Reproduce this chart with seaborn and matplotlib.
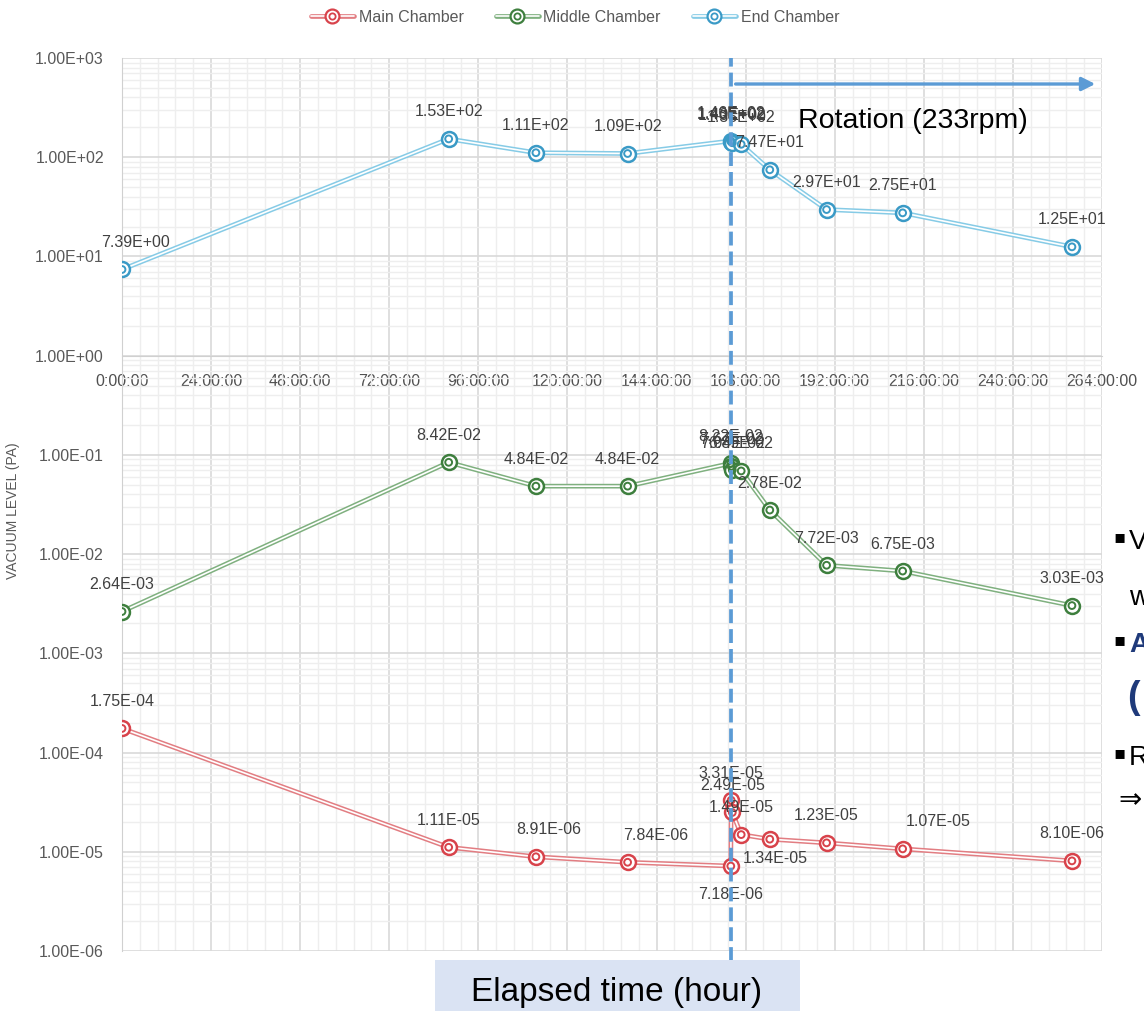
import numpy as np
import pandas as pd
import matplotlib
matplotlib.use("Agg")
import matplotlib.pyplot as plt
from matplotlib.ticker import MultipleLocator, LogLocator, FixedLocator, FuncFormatter, NullFormatter
from matplotlib.lines import Line2D
from matplotlib.patches import Rectangle
import seaborn as sns

# ---- data -------------------------------------------------------------
elapsed_h = [0.0, 88.0, 111.5, 136.2, 164.0, 164.1, 164.4, 166.8, 174.5, 189.8, 210.3, 255.9]
main_pa = [1.75e-4, 1.11e-5, 8.91e-6, 7.84e-6, 7.18e-6, 3.31e-5, 2.49e-5, 1.49e-5,
           1.34e-5, 1.23e-5, 1.07e-5, 8.10e-6]
middle_pa = [2.64e-3, 8.42e-2, 4.84e-2, 4.84e-2, 8.22e-2, 7.67e-2, 7.04e-2, 6.89e-2,
             2.78e-2, 7.72e-3, 6.75e-3, 3.03e-3]
end_pa = [7.39e0, 1.53e2, 1.11e2, 1.09e2, 1.46e2, 1.43e2, 1.40e2, 1.35e2,
          7.47e1, 2.97e1, 2.75e1, 1.25e1]
chambers = ["Main Chamber", "Middle Chamber", "End Chamber"]
rotation_start_h = 164.0
rotation_label = "Rotation (233rpm)"
x_ticks_h = list(range(0, 265, 24))
y_ticks = [1e-6, 1e-5, 1e-4, 1e-3, 1e-2, 1e-1, 1e0, 1e1, 1e2, 1e3]

df = pd.DataFrame({
    "hours": elapsed_h * 3,
    "pa": main_pa + middle_pa + end_pa,
    "chamber": np.repeat(chambers, len(elapsed_h)),
})

# ---- styling ----------------------------------------------------------
sns.set_style("white")
plt.rcParams["font.family"] = ["Liberation Sans", "DejaVu Sans"]

marker_colors = {"Main Chamber": "#D8434B", "Middle Chamber": "#3E7F3E", "End Chamber": "#3A9AC6"}
line_colors = {"Main Chamber": "#E27D82", "Middle Chamber": "#7FB07F", "End Chamber": "#86CBE6"}
white_pal = {c: "white" for c in chambers}
label_color = "#404040"
axis_text = "#595959"
accent = "#5B9BD5"

W, H = 1144, 1011
fig = plt.figure(figsize=(W / 100, H / 100), dpi=100)
ax = fig.add_axes([122 / W, 60 / H, 980 / W, 893 / H])

# compound ("double") lines: coloured stroke with a white core
sns.lineplot(data=df, x="hours", y="pa", hue="chamber", palette=line_colors,
             estimator=None, sort=False, legend=False, lw=3.4, ax=ax, zorder=3)
sns.lineplot(data=df, x="hours", y="pa", hue="chamber", palette=white_pal,
             estimator=None, sort=False, legend=False, lw=1.2, ax=ax, zorder=3.1)

# bull's-eye markers: outer ring + inner ring
for name in chambers:
    sub = df[df["chamber"] == name]
    col = marker_colors[name]
    sns.scatterplot(data=sub, x="hours", y="pa", s=115, marker="o", facecolor="white",
                    edgecolor=col, linewidth=1.8, legend=False, ax=ax, zorder=4)
    sns.scatterplot(data=sub, x="hours", y="pa", s=24, marker="o", facecolor="none",
                    edgecolor=col, linewidth=1.4, legend=False, ax=ax, zorder=4.1)

ax.set_yscale("log")
ax.set_xlim(0, 264)
ax.set_ylim(1e-6, 1e3)

# axes, ticks and grid
ax.xaxis.set_major_locator(FixedLocator(x_ticks_h))
ax.xaxis.set_minor_locator(MultipleLocator(4.8))
ax.xaxis.set_major_formatter(FuncFormatter(lambda v, p: f"{int(round(v))}:00:00"))
ax.yaxis.set_major_locator(FixedLocator(y_ticks))
ax.yaxis.set_minor_locator(LogLocator(base=10, subs=np.arange(2, 10), numticks=50))
ax.yaxis.set_major_formatter(FuncFormatter(lambda v, p: f"{v:.2E}"))
ax.yaxis.set_minor_formatter(NullFormatter())
ax.tick_params(which="both", length=0)
ax.tick_params(axis="x", pad=13.5, labelsize=11.5, labelcolor="#505050")
ax.tick_params(axis="y", pad=13, labelsize=11.5, labelcolor=axis_text)
ax.set_axisbelow(True)
ax.grid(which="minor", color="#eeeeee", lw=1.0)
ax.grid(which="major", color="#d9d9d9", lw=1.2)
for s in ["top", "right"]:
    ax.spines[s].set_visible(False)
ax.spines["left"].set_color("#d0d0d0")
ax.spines["bottom"].set_position(("data", 1.0))
ax.spines["bottom"].set_color("#d0d0d0")
ax.set_xlabel("")
ax.set_ylabel("")

fig.text(13 / W, 1 - 511 / H, "VACUUM LEVEL (PA)", rotation=90, ha="center", va="center",
         fontsize=10, color=axis_text)

# data labels (offsets in pixels; default sits above the marker)
px = 72 / 100
label_shift = {
    ("End Chamber", 0): (13, 27),
    ("Main Chamber", 2): (13, 27),
    ("Main Chamber", 3): (28, 27),
    ("Main Chamber", 4): (0, -28),
    ("Main Chamber", 8): (5, -19),
    ("Main Chamber", 10): (36, 27),
}
for name, vals in zip(chambers, [main_pa, middle_pa, end_pa]):
    for i, (t, v) in enumerate(zip(elapsed_h, vals)):
        dx, dy = label_shift.get((name, i), (0, 27))
        ax.annotate(f"{v:.2E}", (t, v), xytext=(dx * px, dy * px), textcoords="offset points",
                    ha="center", va="center", fontsize=11.5, color=label_color, zorder=6)

# rotation start marker and arrow
ax.axvline(rotation_start_h, ymin=-0.011, ymax=1.0, color=accent, lw=2.7,
           ls=(0, (3.7, 1.6)), clip_on=False, zorder=7)
y_arrow = 10 ** (3 - 26 / 99.2)
ax.annotate("", xy=(262.2, y_arrow), xytext=(165.3, y_arrow),
            arrowprops=dict(arrowstyle="-|>", color=accent, lw=2.4, mutation_scale=20,
                            shrinkA=0, shrinkB=0), zorder=7)
ax.text(182.1, 10 ** (3 - 63 / 99.2), rotation_label, ha="left", va="center",
        fontsize=20.5, color="black", zorder=7)

# legend
handles = []
for name in chambers:
    col = marker_colors[name]
    h = (Line2D([], [], color=line_colors[name], lw=3.4),
         Line2D([], [], color="white", lw=1.2),
         Line2D([], [], ls="none", marker="o", ms=10, mfc="white", mec=col, mew=1.6),
         Line2D([], [], ls="none", marker="o", ms=4.5, mfc="none", mec=col, mew=1.3))
    handles.append(h)
fig.legend(handles, chambers, loc="center", bbox_to_anchor=(575 / W, 1 - 17 / H), ncol=3,
           frameon=False, fontsize=11.5, labelcolor=axis_text, handlelength=2.7,
           handletextpad=0.3, columnspacing=2.0)

# axis title box below the chart
fig.patches.append(Rectangle((435 / W, 0), 365 / W, 51 / H, transform=fig.transFigure,
                             facecolor="#DAE3F3", edgecolor="none", zorder=0))
fig.text(617 / W, 1 - 993 / H, "Elapsed time (hour)", ha="center", va="center",
         fontsize=24, color="black")

# side notes running off the right edge
navy = "#1F3A7A"
bullet_font = ["DejaVu Sans"]
text_font = ["Liberation Sans", "DejaVu Sans"]
side = [
    (1113, 537, "▪", "black", "normal", 13, bullet_font),
    (1129, 542, "V", "black", "normal", 20, text_font),
    (1129, 598, "w", "black", "normal", 20, text_font),
    (1113, 640, "▪", "black", "normal", 13, bullet_font),
    (1129, 645, "A", navy, "bold", 20, text_font),
    (1127, 698, "(", navy, "bold", 27, text_font),
    (1113, 753, "▪", "black", "normal", 13, bullet_font),
    (1129, 758, "R", "black", "normal", 20, text_font),
    (1118, 800, "⇒", "black", "normal", 20, bullet_font),
]
for x, y, s, c, w, fs, fam in side:
    fig.text(x / W, 1 - y / H, s, ha="left", va="center", fontsize=fs, color=c,
             fontweight=w, family=fam)

fig.savefig("out.png", dpi=100)
